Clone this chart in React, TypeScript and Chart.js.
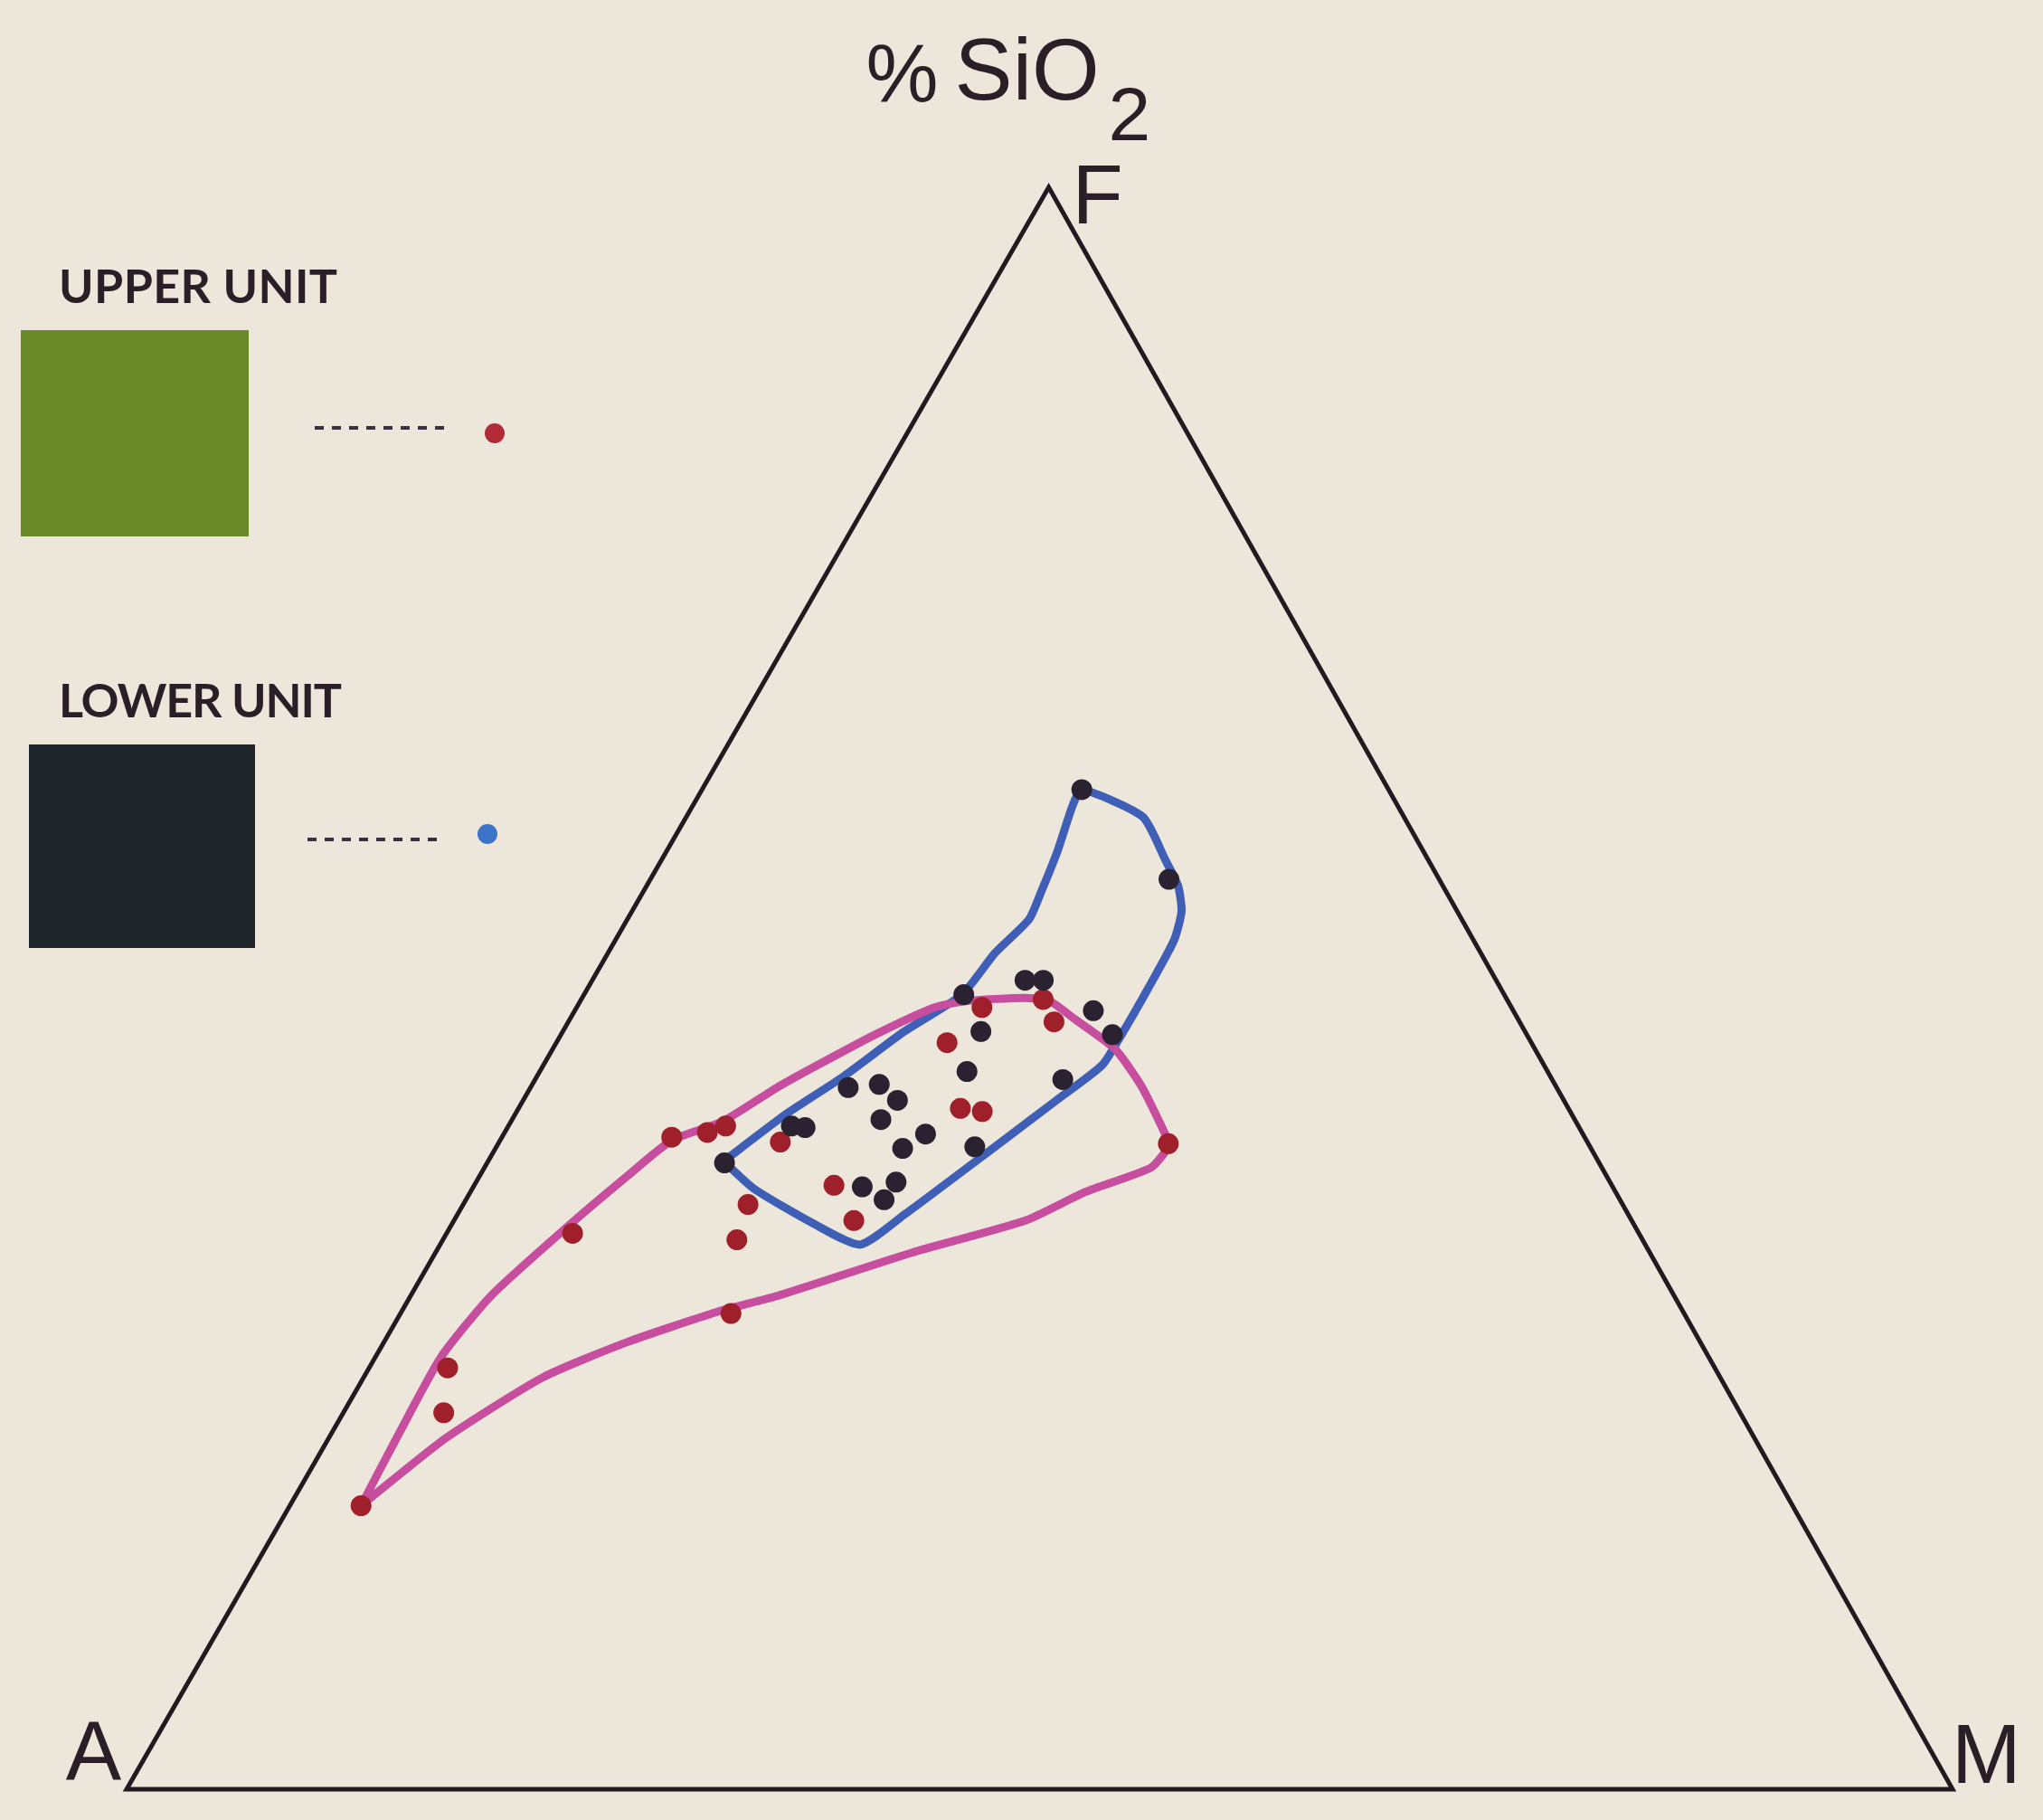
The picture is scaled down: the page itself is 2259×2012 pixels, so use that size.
import React, { useEffect, useRef } from "react";
import { Chart, registerables } from "chart.js";

Chart.register(...registerables);

// ---------- DATA (ternary compositions, [F %, M %]; A = 100 − F − M) ----------
const vertexLabels = ["A", "M", "F"];
const apexTitle = "% SiO";
const apexTitleSub = "2";
const legendLabels = ["UPPER UNIT", "LOWER UNIT"];

const triangleOutline: [number, number][] = [
  [0, 0], [0, 100], [100, 0], [0, 0], [0, 100],
];

// Upper unit samples (red dots)
const upperUnitSamples: [number, number][] = [
  [48.8, 22.2], [49.3, 25.3], [47.9, 26.6], [46.6, 21.4], [42.5, 24.2],
  [42.3, 25.5], [40.3, 36.7], [40.4, 15.4], [40.7, 9.3], [41.0, 11.1],
  [41.4, 11.9], [37.7, 19.7], [35.5, 21.9], [36.5, 15.6], [34.3, 16.1],
  [34.7, 6.9], [29.7, 18.1], [26.3, 4.3], [23.5, 5.5], [17.7, 3.9],
];

// Lower unit samples (dark dots)
const lowerUnitSamples: [number, number][] = [
  [62.4, 20.8], [56.8, 28.4], [49.6, 20.8], [50.5, 23.7], [50.5, 24.7],
  [48.6, 28.4], [47.1, 30.2], [47.3, 22.9], [44.8, 23.4], [44.3, 28.9],
  [40.9, 23.1], [40.1, 26.2], [43.8, 17.4], [44.0, 19.0], [43.0, 20.5],
  [41.8, 20.2], [40.0, 22.3], [41.4, 15.5], [41.3, 16.3], [39.1, 13.0],
  [37.6, 21.3], [37.9, 23.0], [36.8, 22.9],
];

// Field boundary of the lower unit (blue outline)
const lowerUnitField: [number, number][] = [
  [39.2, 12.9], [42.1, 14.8], [44.5, 16.8], [47.3, 18.7], [49.6, 20.7],
  [52.2, 21.2], [54.3, 22.0], [56.0, 21.8], [58.6, 21.4], [61.4, 20.8],
  [62.4, 20.8], [60.7, 25.0], [58.0, 27.6], [56.4, 29.1], [54.8, 30.1],
  [53.0, 30.6], [50.0, 30.7], [47.1, 30.7], [45.2, 30.6], [43.0, 29.2],
  [40.1, 27.3], [35.9, 24.5], [34.0, 23.0], [35.3, 19.8], [37.5, 15.4],
  [39.2, 12.9],
];

// Field boundary of the upper unit (magenta outline)
const upperUnitField: [number, number][] = [
  [17.7, 3.9], [22.3, 3.7], [27.0, 3.6], [30.8, 4.4], [35.1, 6.4],
  [38.3, 8.1], [40.5, 9.4], [41.7, 11.6], [43.8, 13.5], [45.1, 14.9],
  [47.1, 17.2], [48.8, 19.6], [49.2, 21.1], [49.4, 24.2], [49.2, 25.7],
  [48.1, 27.6], [46.2, 30.8], [43.9, 33.4], [40.7, 36.4], [40.1, 36.8],
  [38.8, 36.5], [37.3, 33.7], [35.5, 31.3], [33.5, 26.1], [30.8, 20.1],
  [29.8, 17.3], [27.9, 13.3], [25.7, 9.8], [21.9, 6.4], [17.7, 3.9],
];

// ---------- STYLE / LAYOUT ----------
const W = 2259;
const H = 2012;
const SKEW = 0.505; // horizontal position of the F apex along the A–M base
const BG = "#ede6db";
const INK = "#2a1f27";
const RED = "#9f1f2a";
const DARK = "#2a2230";
const BLUE = "#3f5fb6";
const MAGENTA = "#c74e9f";
const SANS = '"Liberation Sans", Arial, Helvetica, sans-serif';
const LEGEND_FONT = '"Lato", "Open Sans", sans-serif';

function toXY([f, m]: [number, number]) {
  return { x: m + SKEW * f, y: f };
}

function fitText(ctx: CanvasRenderingContext2D, text: string, x: number, y: number, width: number) {
  (ctx as any).letterSpacing = "0px";
  const w = ctx.measureText(text).width;
  const ls = (width - w) / (text.length - 1);
  (ctx as any).letterSpacing = `${ls}px`;
  ctx.fillText(text, x, y);
  (ctx as any).letterSpacing = "0px";
}

const decorPlugin = {
  id: "decor",
  beforeDraw(chart: any) {
    const ctx = chart.ctx as CanvasRenderingContext2D;
    ctx.save();
    ctx.fillStyle = BG;
    ctx.fillRect(0, 0, chart.width, chart.height);
    ctx.restore();
  },
  afterDraw(chart: any) {
    const ctx = chart.ctx as CanvasRenderingContext2D;
    const xs = chart.scales.x;
    const ys = chart.scales.y;
    const A = toXY([0, 0]);
    const M = toXY([0, 100]);
    const F = toXY([100, 0]);
    const pA = { x: xs.getPixelForValue(A.x), y: ys.getPixelForValue(A.y) };
    const pM = { x: xs.getPixelForValue(M.x), y: ys.getPixelForValue(M.y) };
    const pF = { x: xs.getPixelForValue(F.x), y: ys.getPixelForValue(F.y) };

    ctx.save();
    ctx.fillStyle = INK;
    ctx.textBaseline = "alphabetic";

    // Apex title: % SiO2
    ctx.textAlign = "left";
    ctx.font = `90px ${SANS}`;
    ctx.fillText("%", pF.x - 202, 112);
    ctx.font = `96px ${SANS}`;
    ctx.fillText(apexTitle.slice(2), pF.x - 104, 110);
    ctx.font = `84px ${SANS}`;
    ctx.fillText(apexTitleSub, pF.x + 66, 155);

    // Vertex labels
    ctx.font = `92px ${SANS}`;
    ctx.textAlign = "right";
    ctx.fillText(vertexLabels[0], pA.x - 6, pA.y - 10);
    ctx.textAlign = "left";
    ctx.fillText(vertexLabels[1], pM.x - 1, pM.y - 7);
    ctx.fillText(vertexLabels[2], pF.x + 26, pF.y + 40);

    // Legend
    const items = [
      { label: legendLabels[0], tx: 65, ty: 335, tw: 308, sq: [23, 365, 252, 228], sqColor: "#6a8a2a", dash: [348, 497, 473], dot: [547, 479], dotColor: "#b12b36" },
      { label: legendLabels[1], tx: 65, ty: 793, tw: 313, sq: [32, 823, 250, 225], sqColor: "#1f272d", dash: [340, 483, 928], dot: [539, 922], dotColor: "#3b74c8" },
    ];
    for (const it of items) {
      ctx.fillStyle = INK;
      ctx.textAlign = "left";
      ctx.font = `bold 52px ${LEGEND_FONT}`;
      fitText(ctx, it.label, it.tx, it.ty, it.tw);
      ctx.fillStyle = it.sqColor;
      ctx.fillRect(it.sq[0], it.sq[1], it.sq[2], it.sq[3]);
      ctx.strokeStyle = "#3b3042";
      ctx.lineWidth = 4;
      ctx.setLineDash([10, 9]);
      ctx.beginPath();
      ctx.moveTo(it.dash[0], it.dash[2]);
      ctx.lineTo(it.dash[1], it.dash[2]);
      ctx.stroke();
      ctx.setLineDash([]);
      ctx.fillStyle = it.dotColor;
      ctx.beginPath();
      ctx.arc(it.dot[0], it.dot[1], 11, 0, Math.PI * 2);
      ctx.fill();
    }
    ctx.restore();
  },
};

export default function App() {
  const canvasRef = useRef<HTMLCanvasElement | null>(null);

  useEffect(() => {
    document.body.style.margin = "0";
    document.body.style.background = BG;
    const canvas = canvasRef.current;
    if (!canvas) return;

    const lineDs = (label: string, pts: [number, number][], color: string, width: number, order: number, tension: number) => ({
      type: "scatter" as const,
      label,
      data: pts.map(toXY),
      showLine: true,
      borderColor: color,
      backgroundColor: color,
      borderWidth: width,
      pointRadius: 0,
      pointHoverRadius: 0,
      tension,
      borderJoinStyle: "round" as const,
      borderCapStyle: "round" as const,
      clip: false as const,
      order,
    });

    const chart = new Chart(canvas, {
      type: "scatter",
      data: {
        datasets: [
          { ...lineDs("Triangle", triangleOutline, "#231a21", 5, 6, 0), borderJoinStyle: "miter" as const },
          lineDs("Lower unit field", lowerUnitField, BLUE, 9, 5, 0.2),
          lineDs("Upper unit field", upperUnitField, MAGENTA, 9, 4, 0.2),
          {
            label: "Upper unit",
            data: upperUnitSamples.map(toXY),
            pointRadius: 11.5,
            pointHoverRadius: 11.5,
            backgroundColor: RED,
            borderWidth: 0,
            clip: false as const,
            order: 3,
          },
          {
            label: "Lower unit",
            data: lowerUnitSamples.map(toXY),
            pointRadius: 11.5,
            pointHoverRadius: 11.5,
            backgroundColor: DARK,
            borderWidth: 0,
            clip: false as const,
            order: 2,
          },
        ],
      },
      options: {
        responsive: false,
        animation: false,
        devicePixelRatio: 1,
        events: [],
        layout: { padding: { left: 140, right: 100, top: 207, bottom: 34 } },
        scales: {
          x: { type: "linear", min: 0, max: 100, display: false },
          y: { type: "linear", min: 0, max: 100, display: false },
        },
        plugins: {
          legend: { display: false },
          tooltip: { enabled: false },
          title: { display: false },
        },
      },
      plugins: [decorPlugin],
    } as any);

    return () => {
      chart.destroy();
    };
  }, []);

  return (
    <div style={{ width: W, height: H }}>
      <canvas ref={canvasRef} width={W} height={H} style={{ display: "block", width: W, height: H }} />
    </div>
  );
}
